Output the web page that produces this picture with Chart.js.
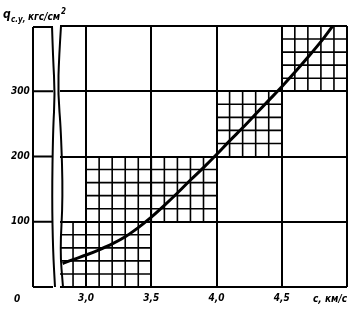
<!DOCTYPE html>
<html>
<head>
<meta charset="utf-8">
<script src="https://cdn.jsdelivr.net/npm/chart.js@4"></script>
<style>
  html, body { margin: 0; padding: 0; background: #fff; }
  canvas { display: block; }
</style>
</head>
<body>
<canvas id="chart" width="356" height="309"></canvas>
<script>
// speed c, km/s  ->  specific pressure q, kgf/cm2
var speed = [2.82, 2.9, 3.0, 3.1, 3.2, 3.3, 3.4, 3.5, 3.6, 3.7, 3.8, 3.9, 4.0, 4.1, 4.2, 4.3, 4.4, 4.5, 4.6, 4.7, 4.8, 4.89];
var pressure = [36, 42, 49, 57, 66, 77, 91, 107, 125, 144, 164, 183, 203, 224, 244, 265, 286, 307, 329, 352, 376, 400];

var xTicks = [3.0, 3.5, 4.0, 4.5, 5.0];
var xTickLabels = ['3,0', '3,5', '4,0', '4,5', ''];
var yTicks = [0, 100, 200, 300, 400];
var yTickLabels = ['', '100', '200', '300', ''];

// blocks of fine ruling: [xFrom, xTo, yFrom, yTo]
var fineBlocks = [
    [2.8, 3.5, 0, 100],
    [3.0, 4.0, 100, 200],
    [4.0, 4.5, 200, 300],
    [4.5, 5.0, 300, 400]
];
var fineStepX = 0.1;
var fineStepY = 20;

var font = "'Liberation Sans Narrow', 'DejaVu Sans Condensed', sans-serif";

var sheet = {
    id: 'sheet',
    beforeDatasetsDraw: function (chart) {
        var ctx = chart.ctx;
        var xs = chart.scales.x, ys = chart.scales.y;
        ctx.save();
        ctx.strokeStyle = '#000';
        ctx.lineWidth = 1.6;
        fineBlocks.forEach(function (b) {
            var y0 = ys.getPixelForValue(b[2]), y1 = ys.getPixelForValue(b[3]);
            var x0 = xs.getPixelForValue(b[0]), x1 = xs.getPixelForValue(b[1]);
            ctx.beginPath();
            for (var v = b[0] + fineStepX; v < b[1] - 1e-6; v += fineStepX) {
                var px = xs.getPixelForValue(v);
                ctx.moveTo(px, y0);
                ctx.lineTo(px, y1);
            }
            for (var w = b[2] + fineStepY; w < b[3] - 1e-6; w += fineStepY) {
                var py = ys.getPixelForValue(w);
                ctx.moveTo(x0, py);
                ctx.lineTo(x1, py);
            }
            ctx.stroke();
        });
        ctx.restore();
    },
    afterDraw: function (chart) {
        var ctx = chart.ctx;
        var a = chart.chartArea;
        var ys = chart.scales.y;
        var h = a.bottom - a.top;
        ctx.save();
        ctx.strokeStyle = '#000';
        ctx.lineWidth = 2;

        // stub of the value axis left of the break
        var stubX = a.left - 27;
        ctx.beginPath();
        ctx.moveTo(stubX, ys.getPixelForValue(400) + 1);
        ctx.lineTo(stubX, ys.getPixelForValue(0));
        yTicks.forEach(function (t) {
            var py = ys.getPixelForValue(t) + (t === 400 ? 1 : 0);
            ctx.moveTo(stubX, py);
            ctx.lineTo(a.left - 7, py);
        });
        ctx.stroke();

        // break marks
        var leftWave = [[0, -8], [0.12, -7], [0.26, -5], [0.4, -7], [0.66, -8], [0.86, -7], [1, -5]];
        var rightWave = [[0, 1], [0.12, -1], [0.26, -2], [0.4, 1], [0.66, 3], [0.86, 0], [1, 3]];
        [leftWave, rightWave].forEach(function (pts) {
            ctx.beginPath();
            ctx.moveTo(a.left + pts[0][1], a.top + pts[0][0] * h);
            for (var i = 1; i < pts.length - 1; i++) {
                var mx = (pts[i][1] + pts[i + 1][1]) / 2;
                var my = (pts[i][0] + pts[i + 1][0]) / 2;
                ctx.quadraticCurveTo(a.left + pts[i][1], a.top + pts[i][0] * h, a.left + mx, a.top + my * h);
            }
            var last = pts[pts.length - 1];
            ctx.lineTo(a.left + last[1], a.top + last[0] * h);
            ctx.stroke();
        });

        // texts
        ctx.fillStyle = '#000';
        ctx.textBaseline = 'alphabetic';
        ctx.font = 'italic bold 10px ' + font;
        ctx.fillText('0', 14, 302);
        ctx.textAlign = 'right';
        ctx.fillText('c, км/с', a.right, 302);
        ctx.textAlign = 'left';
        ctx.font = 'italic bold 12px ' + font;
        ctx.fillText('q', 3, 18);
        ctx.font = 'italic bold 8px ' + font;
        ctx.fillText('с.у,', 11, 22);
        ctx.font = 'italic bold 10px ' + font;
        ctx.fillText('кгс/см', 28, 20);
        var wUnit = ctx.measureText('кгс/см').width;
        ctx.font = 'italic bold 8px ' + font;
        ctx.fillText('2', 28 + wUnit + 1, 14);
        ctx.restore();
    }
};

new Chart(document.getElementById('chart'), {
    type: 'line',
    data: {
        datasets: [{
            data: speed.map(function (c, i) { return { x: c, y: pressure[i] }; }),
            borderColor: '#000',
            borderWidth: 3,
            pointRadius: 0,
            cubicInterpolationMode: 'monotone',
            fill: false
        }]
    },
    options: {
        responsive: false,
        animation: false,
        devicePixelRatio: 1,
        layout: { autoPadding: false, padding: { top: 26, right: 9, left: 11, bottom: 0 } },
        plugins: { legend: { display: false }, tooltip: { enabled: false } },
        scales: {
            x: {
                type: 'linear',
                min: 2.8,
                max: 5.0,
                afterBuildTicks: function (scale) {
                    scale.ticks = xTicks.map(function (v) { return { value: v }; });
                },
                afterFit: function (scale) { scale.height = 22; },
                border: { display: false },
                grid: { color: '#000', lineWidth: 2, drawTicks: false },
                ticks: {
                    padding: 5,
                    maxRotation: 0,
                    color: '#000',
                    font: { family: font, size: 10, style: 'italic', weight: 'bold' },
                    callback: function (v) {
                        var i = xTicks.indexOf(v);
                        return i >= 0 ? xTickLabels[i] : '';
                    }
                }
            },
            y: {
                min: 0,
                max: 400,
                afterBuildTicks: function (scale) {
                    scale.ticks = yTicks.map(function (v) { return { value: v }; });
                },
                afterFit: function (scale) { scale.width = 49; },
                border: { display: false },
                grid: { color: '#000', lineWidth: 2, drawTicks: false },
                ticks: {
                    padding: 0,
                    crossAlign: 'far',
                    color: '#000',
                    font: { family: font, size: 10, style: 'italic', weight: 'bold' },
                    callback: function (v) {
                        var i = yTicks.indexOf(v);
                        return i >= 0 ? yTickLabels[i] : '';
                    }
                }
            }
        }
    },
    plugins: [sheet]
});
</script>
</body>
</html>
